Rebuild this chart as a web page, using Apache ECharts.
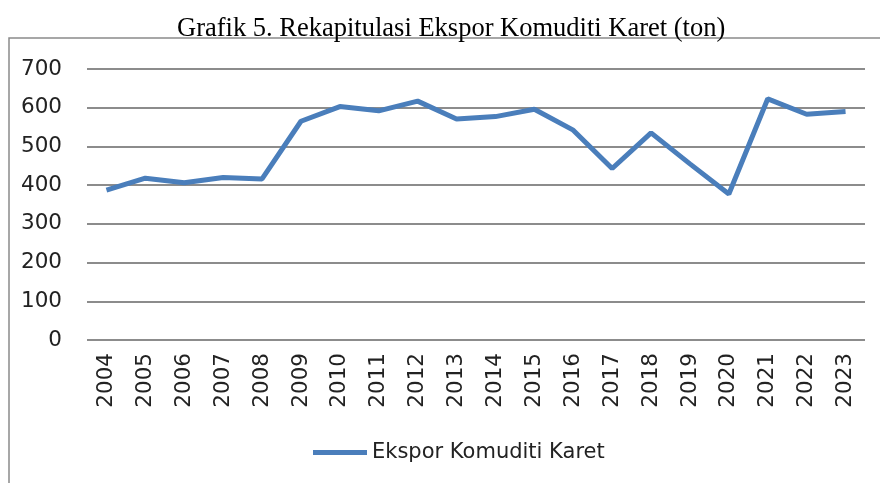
<!DOCTYPE html>
<html>
<head>
<meta charset="utf-8">
<script src="https://cdn.jsdelivr.net/npm/echarts@6/dist/echarts.min.js"></script>
<style>
  html, body {margin: 0; padding: 0; background: #ffffff;}
  #chart {width: 880px; height: 483px;}
</style>
</head>
<body>
<div id="chart"></div>
<script>
// years on the category axis
var years = ["2004", "2005", "2006", "2007", "2008", "2009", "2010", "2011", "2012", "2013",
  "2014", "2015", "2016", "2017", "2018", "2019", "2020", "2021", "2022", "2023"];

// export volume, ton
var eksporKaret = [387, 418, 406, 420, 416, 565, 603, 592, 617, 571,
  577, 596, 542, 443, 535, 455, 377, 623, 583, 590];

var seriesName = "Ekspor Komuditi Karet";
var titleText = "Grafik 5. Rekapitulasi Ekspor Komuditi Karet (ton)";

var chart = echarts.init(document.getElementById("chart"), null, {renderer: "canvas"});

var options = {
  backgroundColor: "#ffffff",
  animation: false,
  title: {
    text: titleText,
    left: 172,
    top: 11,
    textStyle: {
      fontFamily: "Liberation Serif",
      fontWeight: "normal",
      fontSize: 26.5,
      color: "#000000"
    }
  },
  // outer chart frame, runs off the right and bottom edges
  graphic: [{
    type: "rect",
    shape: {x: 9, y: 38, width: 900, height: 480},
    style: {fill: "none", stroke: "#8a8a8a", lineWidth: 1.5},
    silent: true
  }],
  legend: {
    bottom: 15,
    left: 308,
    icon: "rect",
    itemWidth: 54,
    itemHeight: 5,
    itemGap: 4,
    textStyle: {fontFamily: "DejaVu Sans", fontSize: 21, color: "#222222"},
    data: [seriesName]
  },
  grid: {left: 87, right: 15, top: 69, bottom: 143, containLabel: false},
  xAxis: {
    type: "category",
    data: years,
    boundaryGap: true,
    axisLine: {show: false},
    axisTick: {show: false},
    axisLabel: {
      rotate: 90,
      margin: 13,
      interval: 0,
      fontFamily: "DejaVu Sans",
      fontSize: 21.5,
      color: "#222222"
    }
  },
  yAxis: {
    type: "value",
    min: 0,
    max: 700,
    interval: 100,
    axisLine: {show: false},
    axisTick: {show: false},
    axisLabel: {
      margin: 25,
      fontFamily: "DejaVu Sans",
      fontSize: 21.5,
      color: "#222222"
    },
    splitLine: {lineStyle: {color: "#8c8c8c", width: 2}}
  },
  series: [{
    name: seriesName,
    type: "line",
    data: eksporKaret,
    showSymbol: false,
    symbol: "none",
    smooth: false,
    lineStyle: {color: "#4a7ebb", width: 5},
    itemStyle: {color: "#4a7ebb"}
  }]
};

chart.setOption(options, true);
</script>
</body>
</html>
